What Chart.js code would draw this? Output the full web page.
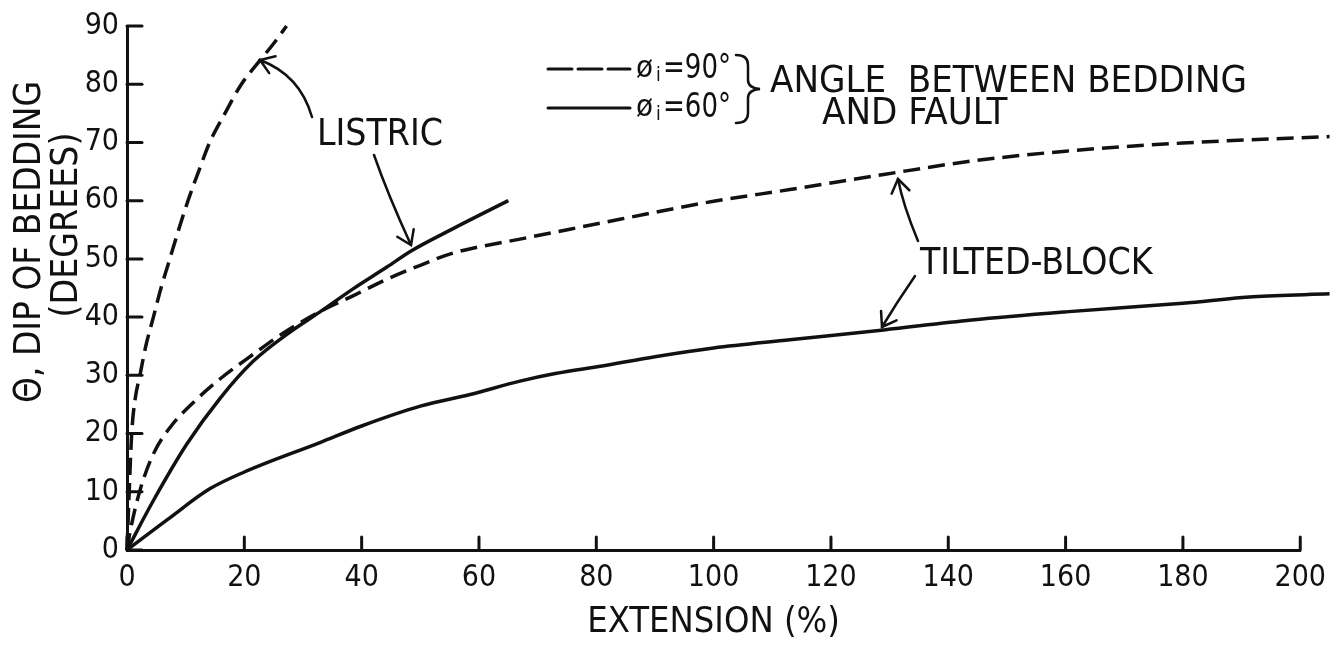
<!DOCTYPE html>
<html>
<head>
<meta charset="utf-8">
<script src="https://cdn.jsdelivr.net/npm/chart.js@4.4.1/dist/chart.umd.min.js"></script>
<style>
  html, body { margin: 0; padding: 0; background: #fff; }
  #wrap { width: 1336px; height: 647px; position: relative; }
</style>
</head>
<body>
<div id="wrap"><canvas id="chart"></canvas></div>
<script>
// values (extension %, dip degrees)
const xTicks = [0, 20, 40, 60, 80, 100, 120, 140, 160, 180, 200];
const yTicks = [0, 10, 20, 30, 40, 50, 60, 70, 80, 90];

const listric90X = [0, 0.3, 0.8, 1.4, 2.2, 3.2, 4.5, 5.8, 7.3, 8.8, 10.4, 12.2, 14.1, 16.7, 19.5, 22.6, 25, 27.2];
const listric90Y = [0, 8, 20, 26, 30, 35, 40, 45, 50, 55, 60, 65, 70, 75, 80, 84, 87, 90];

const listric60X = [0, 4.5, 10.2, 15.9, 21.5, 27.2, 32.9, 38.6, 44.3, 48.5, 55.6, 65];
const listric60Y = [0, 8.5, 18.2, 26.1, 32.4, 37, 40.9, 44.9, 48.6, 51.4, 55.2, 60];

const tilted90X = [0, 0.5, 2.2, 4.5, 7.3, 12, 16, 21.5, 27, 33, 38.6, 44.3, 50, 55.6, 67, 75.5, 84, 100, 113, 129, 144, 160, 180, 205];
const tilted90Y = [0, 3, 10.2, 16.5, 21, 26, 29.5, 33.6, 37.5, 41, 43.7, 46.5, 48.9, 51, 53.4, 55.1, 56.8, 59.9, 61.9, 64.5, 66.8, 68.5, 69.9, 71];

const tilted60X = [0, 7, 14.1, 20, 33, 40, 50, 58.5, 67, 73, 81, 90, 100, 113, 129, 144, 160, 180, 192, 205];
const tilted60Y = [0, 5.3, 10.5, 13.4, 18.5, 21.3, 24.7, 26.7, 29, 30.3, 31.6, 33.2, 34.7, 36.1, 37.8, 39.5, 40.9, 42.4, 43.5, 44];

const FONT = "'DejaVu Sans Condensed', 'Liberation Sans Narrow', 'DejaVu Sans', sans-serif";
const INK = '#111';

function pts(xs, ys) { return xs.map((x, i) => ({ x, y: ys[i] })); }

function line(label, xs, ys, dashed) {
    return {
        label, data: pts(xs, ys),
        borderColor: INK, borderWidth: 3.5, borderDash: dashed ? [17, 8] : [],
        pointRadius: 0, fill: false, clip: false,
        cubicInterpolationMode: 'monotone'
    };
}

function arrow(ctx, x0, y0, cx, cy, x1, y1) {
    ctx.beginPath();
    ctx.moveTo(x0, y0);
    ctx.quadraticCurveTo(cx, cy, x1, y1);
    ctx.stroke();
    const a = Math.atan2(cy - y1, cx - x1);
    const L = 16, s = 0.6;
    ctx.beginPath();
    ctx.moveTo(x1 + L * Math.cos(a - s), y1 + L * Math.sin(a - s));
    ctx.lineTo(x1, y1);
    ctx.lineTo(x1 + L * Math.cos(a + s), y1 + L * Math.sin(a + s));
    ctx.stroke();
}

function text(ctx, str, x, y, size, maxW, align) {
    ctx.font = size + 'px ' + FONT;
    ctx.textAlign = align || 'left';
    ctx.textBaseline = 'middle';
    ctx.fillText(str, x, y, maxW);
}

// inward tick marks, labels and notes drawn on top of the chart
const notes = {
    id: 'notes',
    afterDraw(chart) {
        const ctx = chart.ctx;
        const xs = chart.scales.x, ys = chart.scales.y;
        ctx.save();
        ctx.strokeStyle = INK;
        ctx.fillStyle = INK;
        ctx.lineCap = 'round';

        // tick marks pointing into the plot
        ctx.lineWidth = 3;
        ys.ticks.forEach(t => {
            const py = ys.getPixelForValue(t.value);
            ctx.beginPath(); ctx.moveTo(xs.left, py); ctx.lineTo(xs.left + 15, py); ctx.stroke();
        });
        xs.ticks.forEach(t => {
            const px = xs.getPixelForValue(t.value);
            ctx.beginPath(); ctx.moveTo(px, ys.bottom); ctx.lineTo(px, ys.bottom - 13); ctx.stroke();
        });

        // y axis title, two rotated lines
        ctx.save();
        ctx.translate(30, 242);
        ctx.rotate(-Math.PI / 2);
        text(ctx, 'Θ, DIP OF BEDDING', 0, 0, 37, 322, 'center');
        ctx.restore();
        ctx.save();
        ctx.translate(67, 225);
        ctx.rotate(-Math.PI / 2);
        text(ctx, '(DEGREES)', 0, 0, 37, 218, 'center');
        ctx.restore();

        // curve labels and arrows
        ctx.lineWidth = 2.5;
        text(ctx, 'LISTRIC', 317, 135, 37, 126);
        arrow(ctx, 312, 117, 300, 75, 260, 60);
        arrow(ctx, 374, 155, 388, 195, 411, 245);

        text(ctx, 'TILTED-BLOCK', 920, 264, 37, 240);
        arrow(ctx, 918, 241, 903, 205, 898, 179);
        arrow(ctx, 915, 276, 897, 302, 882, 327);

        // key
        ctx.lineWidth = 3;
        ctx.setLineDash([24, 6]);
        ctx.beginPath(); ctx.moveTo(548, 69); ctx.lineTo(630, 69); ctx.stroke();
        ctx.setLineDash([]);
        ctx.beginPath(); ctx.moveTo(548, 108); ctx.lineTo(630, 108); ctx.stroke();

        [['90°', 69], ['60°', 108]].forEach(([v, y]) => {
            text(ctx, 'ø', 636, y, 31);
            text(ctx, 'i', 656, y + 7, 19);
            text(ctx, '=' + v, 663, y, 34, 68);
        });

        // brace
        ctx.lineWidth = 2.5;
        ctx.beginPath();
        ctx.moveTo(736, 55);
        ctx.quadraticCurveTo(748, 55, 748, 65);
        ctx.lineTo(748, 80);
        ctx.quadraticCurveTo(748, 88, 760, 89);
        ctx.quadraticCurveTo(748, 90, 748, 98);
        ctx.lineTo(748, 113);
        ctx.quadraticCurveTo(748, 123, 736, 123);
        ctx.stroke();

        text(ctx, 'ANGLE  BETWEEN BEDDING', 770, 82, 38, 485);
        text(ctx, 'AND FAULT', 822, 114, 38, 188);
        ctx.restore();
    }
};

new Chart(document.getElementById('chart'), {
    type: 'line',
    data: {
        datasets: [
            line('Listric, øi=90°', listric90X, listric90Y, true),
            line('Listric, øi=60°', listric60X, listric60Y, false),
            line('Tilted-block, øi=90°', tilted90X, tilted90Y, true),
            line('Tilted-block, øi=60°', tilted60X, tilted60Y, false)
        ]
    },
    options: {
        responsive: true,
        maintainAspectRatio: false,
        animation: false,
        layout: { padding: { left: 0, top: 22, right: 31, bottom: 0 } },
        plugins: { legend: { display: false }, tooltip: { enabled: false } },
        scales: {
            x: {
                type: 'linear', min: 0, max: 200,
                afterBuildTicks: s => { s.ticks = xTicks.map(v => ({ value: v })); },
                afterFit: s => { s.height = 97; },
                grid: { drawOnChartArea: false, drawTicks: false },
                border: { display: true, color: INK, width: 3 },
                ticks: { color: INK, padding: 10, maxRotation: 0, font: { family: FONT, size: 30 } },
                title: { display: true, text: 'EXTENSION (%)', color: INK, padding: { top: 0, bottom: 3 }, font: { family: FONT, size: 36 } }
            },
            y: {
                type: 'linear', min: 0, max: 90,
                afterBuildTicks: s => { s.ticks = yTicks.map(v => ({ value: v })); },
                afterFit: s => { s.width = 127; },
                grid: { drawOnChartArea: false, drawTicks: false },
                border: { display: true, color: INK, width: 3 },
                ticks: { color: INK, padding: 8, font: { family: FONT, size: 30 } }
            }
        }
    },
    plugins: [notes]
});
</script>
</body>
</html>
